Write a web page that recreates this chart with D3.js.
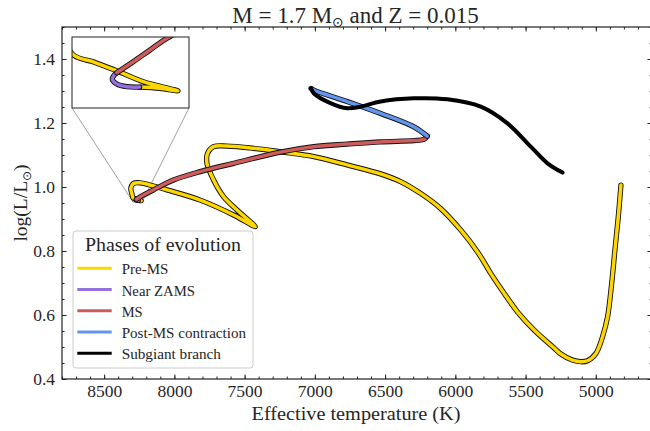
<!DOCTYPE html>
<html>
<head>
<meta charset="utf-8">
<script src="https://cdn.jsdelivr.net/npm/d3@7"></script>
<style>
  body { margin: 0; background: #fff; }
  svg { display: block; }
  svg text { font-family: "Liberation Serif", "Times New Roman", "DejaVu Serif", serif !important; fill: #262626; }
  svg text .sym { font-family: "DejaVu Sans", sans-serif !important; }
</style>
</head>
<body>
<div id="chart"></div>
<script>
// evolutionary track, [Teff (K), log(L/Lsun)]
var preMS = [[4821,1.006],[4840,0.907],[4864,0.803],[4887,0.699],[4916,0.595],[4952,0.532],
  [4999,0.480],[5059,0.457],[5106,0.454],[5166,0.459],[5249,0.478],[5297,0.497],[5439,0.553],
  [5558,0.610],[5653,0.668],[5748,0.730],[5843,0.798],[5962,0.866],[6105,0.933],[6247,0.980],
  [6390,1.017],[6532,1.041],[6770,1.069],[7008,1.095],[7245,1.110],[7436,1.121],[7626,1.128],
  [7721,1.126],[7764,1.105],[7768,1.074],[7721,1.022],[7650,0.970],[7554,0.928],[7424,0.876],
  [7578,0.9125],[7816,0.959],[8053,0.991],[8149,1.003],[8244,1.013],[8292,1.011],[8310,0.996],
  [8303,0.980],[8294,0.966],[8282,0.964],[8270,0.962],[8255,0.9593],[8236,0.9571],[8246,0.9577],
  [8257,0.9580]];
var nearZAMS = [[8257,0.9580],[8264,0.9581],[8269.5,0.95875],[8272,0.95987],[8271,0.96083],[8269.5,0.96145]];
var mainSeq = [[8269.5,0.96145],[8260.5,0.96408],[8251.3,0.96689],[8242,0.9697],[8149,0.991],
  [8006,1.022],[7816,1.048],[7578,1.074],[7245,1.109],[7008,1.126],[6770,1.134],[6532,1.141],
  [6295,1.145],[6224,1.149],[6200,1.159]];
var postMS = [[6200,1.159],[6295,1.188],[6532,1.230],[6770,1.267],[7008,1.303],[7027,1.308]];
var subgiant = [[7027,1.308],[7008,1.293],[6889,1.262],[6770,1.246],[6675,1.251],[6532,1.267],
  [6295,1.277],[6057,1.274],[5819,1.251],[5629,1.199],[5463,1.126],[5344,1.074],[5237,1.045]];

var phaseNames = ["Pre-MS", "Near ZAMS", "MS", "Post-MS contraction", "Subgiant branch"];
var phaseColors = ["#FFD700", "#9370DB", "#CD5C5C", "#6495ED", "#000000"];
var phaseData = [preMS, nearZAMS, mainSeq, postMS, subgiant];

var xTicks = [8500, 8000, 7500, 7000, 6500, 6000, 5500, 5000];
var yTicks = [0.4, 0.6, 0.8, 1.0, 1.2, 1.4];

var svgWidth = 650, svgHeight = 431;
var margin = {top: 27, right: -2, bottom: 52, left: 62};
var width = svgWidth - margin.left - margin.right;
var height = svgHeight - margin.top - margin.bottom;

var svg = d3.select("#chart").append("svg")
  .attr("width", svgWidth)
  .attr("height", svgHeight);

var chartGroup = svg.append("g")
  .attr("transform", `translate(${margin.left}, ${margin.top})`);

var xScale = d3.scaleLinear().domain([8800, 4600]).range([0, width]);
var yScale = d3.scaleLinear().domain([0.4, 1.5]).range([height, 0]);

// inset: a small window around the ZAMS hook
var inset = {x: 10, y: 10, w: 117, h: 71};
var insetX = d3.scaleLinear().domain([8294, 8230]).range([0, inset.w]);
var insetY = d3.scaleLinear().domain([0.953, 0.970]).range([inset.h, 0]);

// mark of the inset region + connectors (drawn under the tracks)
var rx0 = xScale(8294), rx1 = xScale(8230), ry0 = yScale(0.953), ry1 = yScale(0.970);
chartGroup.append("rect")
  .attr("x", rx0).attr("y", ry1).attr("width", rx1 - rx0).attr("height", ry0 - ry1)
  .attr("fill", "none").attr("stroke", "#888").attr("stroke-width", 0.8);
chartGroup.append("line")
  .attr("x1", inset.x).attr("y1", inset.y + inset.h).attr("x2", rx0).attr("y2", ry0)
  .attr("stroke", "#888").attr("stroke-width", 0.8);
chartGroup.append("line")
  .attr("x1", inset.x + inset.w).attr("y1", inset.y + inset.h).attr("x2", rx1).attr("y2", ry0)
  .attr("stroke", "#888").attr("stroke-width", 0.8);

function drawTracks(group, xs, ys) {
  var line = d3.line()
    .x(d => xs(d[0]))
    .y(d => ys(d[1]))
    .curve(d3.curveCatmullRom.alpha(0.5));
  phaseData.forEach(function(data, i) {
    var isBlack = phaseColors[i] === "#000000";
    if (!isBlack) {
      group.append("path")
        .attr("d", line(data))
        .attr("fill", "none")
        .attr("stroke", "#111")
        .attr("stroke-width", 5.3)
        .attr("stroke-linejoin", "round")
        .attr("stroke-linecap", "round");
    }
    group.append("path")
      .attr("d", line(data))
      .attr("fill", "none")
      .attr("stroke", phaseColors[i])
      .attr("stroke-width", isBlack ? 4 : 3.5)
      .attr("stroke-linejoin", "round")
      .attr("stroke-linecap", "round");
  });
}

drawTracks(chartGroup.append("g"), xScale, yScale);

// axes: ticks pointing inward on all four sides
function styleAxis(g) {
  g.select(".domain").remove();
  g.selectAll("line").attr("stroke", "#222").attr("stroke-width", 1);
}
var xMinor = d3.range(4600, 8801, 100);
var yMinor = d3.range(0.4, 1.5001, 0.05).map(v => +v.toFixed(2));

chartGroup.append("g").attr("transform", `translate(0, ${height})`)
  .call(d3.axisBottom(xScale).tickValues(xMinor).tickSize(-2.5).tickFormat("")).call(styleAxis);
chartGroup.append("g").call(d3.axisTop(xScale).tickValues(xMinor).tickSize(-2.5).tickFormat("")).call(styleAxis);
chartGroup.append("g").call(d3.axisLeft(yScale).tickValues(yMinor).tickSize(-2.5).tickFormat("")).call(styleAxis);
chartGroup.append("g").attr("transform", `translate(${width}, 0)`)
  .call(d3.axisRight(yScale).tickValues(yMinor).tickSize(-2.5).tickFormat("")).call(styleAxis);

var bottomAxis = chartGroup.append("g").attr("transform", `translate(0, ${height})`)
  .call(d3.axisBottom(xScale).tickValues(xTicks).tickSize(-4.5).tickPadding(6).tickFormat(d3.format("d")))
  .call(styleAxis);
bottomAxis.selectAll("text").attr("font-size", "17.5px");
chartGroup.append("g").call(d3.axisTop(xScale).tickValues(xTicks).tickSize(-4.5).tickFormat("")).call(styleAxis);
var leftAxis = chartGroup.append("g")
  .call(d3.axisLeft(yScale).tickValues(yTicks).tickSize(-4.5).tickPadding(7).tickFormat(d3.format(".1f")))
  .call(styleAxis);
leftAxis.selectAll("text").attr("font-size", "17.5px");
chartGroup.append("g").attr("transform", `translate(${width}, 0)`)
  .call(d3.axisRight(yScale).tickValues(yTicks).tickSize(-4.5).tickFormat("")).call(styleAxis);

// frame
chartGroup.append("rect")
  .attr("width", width).attr("height", height)
  .attr("fill", "none").attr("stroke", "#222").attr("stroke-width", 1.2);

// inset box
var insetG = chartGroup.append("g").attr("transform", `translate(${inset.x}, ${inset.y})`);
svg.append("clipPath").attr("id", "inset-clip")
  .append("rect").attr("width", inset.w).attr("height", inset.h);
insetG.append("rect").attr("width", inset.w).attr("height", inset.h).attr("fill", "white");
drawTracks(insetG.append("g").attr("clip-path", "url(#inset-clip)"), insetX, insetY);
insetG.append("rect").attr("width", inset.w).attr("height", inset.h)
  .attr("fill", "none").attr("stroke", "#222").attr("stroke-width", 1);

// legend
var legend = chartGroup.append("g").attr("transform", "translate(11, 204)");
legend.append("rect")
  .attr("width", 180).attr("height", 137).attr("rx", 3)
  .attr("fill", "white").attr("fill-opacity", 0.85)
  .attr("stroke", "#ccc").attr("stroke-width", 1);
legend.append("text")
  .attr("x", 90).attr("y", 20)
  .attr("text-anchor", "middle")
  .attr("font-size", "19px")
  .attr("textLength", 156).attr("lengthAdjust", "spacingAndGlyphs")
  .text("Phases of evolution");
var entryWidths = [46.7, 73.3, 21, 124.3, 99.3];
phaseNames.forEach(function(name, i) {
  var yy = 37.3 + i * 21.25;
  legend.append("line")
    .attr("x1", 4.3).attr("x2", 38.7).attr("y1", yy).attr("y2", yy)
    .attr("stroke", phaseColors[i]).attr("stroke-width", 3);
  legend.append("text")
    .attr("x", 48.7).attr("y", yy + 6)
    .attr("font-size", "15.5px")
    .attr("textLength", entryWidths[i]).attr("lengthAdjust", "spacingAndGlyphs")
    .text(name);
});

// title
var title = svg.append("text")
  .attr("x", 355.5).attr("y", 22.7)
  .attr("text-anchor", "middle")
  .attr("font-size", "23px");
title.append("tspan").text("M = 1.7 M");
title.append("tspan").attr("class", "sym").attr("font-size", "14px").attr("dy", 4).text("⊙");
title.append("tspan").attr("dy", -4).text(" and Z = 0.015");

// x label
svg.append("text")
  .attr("x", 356).attr("y", 420)
  .attr("text-anchor", "middle")
  .attr("font-size", "18.5px")
  .attr("textLength", 209).attr("lengthAdjust", "spacingAndGlyphs")
  .text("Effective temperature (K)");

// y label
var ylab = svg.append("text")
  .attr("transform", "translate(27, 203) rotate(-90)")
  .attr("text-anchor", "middle")
  .attr("font-size", "19.5px");
ylab.append("tspan").text("log(L/L");
ylab.append("tspan").attr("class", "sym").attr("font-size", "12px").attr("dy", 4).text("⊙");
ylab.append("tspan").attr("dy", -4).text(")");
</script>
</body>
</html>
